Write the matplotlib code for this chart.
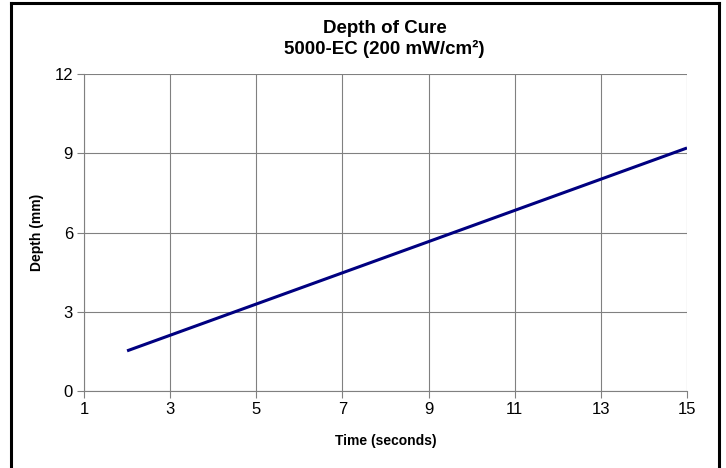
import numpy as np
import matplotlib.pyplot as plt
from matplotlib.lines import Line2D

plt.rcParams['font.family'] = ['Liberation Sans', 'DejaVu Sans']

# data
time_s = [2, 15]
depth_mm = [1.52, 9.2]
x_ticks = [1, 3, 5, 7, 9, 11, 13, 15]
y_ticks = [0, 3, 6, 9, 12]

fig = plt.figure(figsize=(7.26, 4.68), dpi=100)
ax = fig.add_axes([0.1157, 0.1645, 0.8306, 0.6774])

ax.plot(time_s, depth_mm, color='#000080', lw=2.2, solid_capstyle='butt')

ax.set_xlim(1, 15)
ax.set_ylim(0, 12)
ax.set_xticks(x_ticks)
ax.set_yticks(y_ticks)
ax.grid(True, color='#808080', lw=0.8)
ax.set_axisbelow(True)
for side in ['top', 'right']:
    ax.spines[side].set_visible(False)
for side in ['left', 'bottom']:
    ax.spines[side].set_color('#808080')
    ax.spines[side].set_linewidth(0.8)
ax.tick_params(direction='out', length=5, color='#808080', labelsize=12, pad=3)

ax.set_xlabel('Time (seconds)', fontsize=10, fontweight='bold', labelpad=12)
ax.set_ylabel('Depth (mm)', fontsize=10, fontweight='bold', va='center')
ax.yaxis.set_label_coords(-0.078, 0.5)
fig.text(0.5295, 0.940, 'Depth of Cure', ha='center', va='center',
         fontsize=13.5, fontweight='bold')
fig.text(0.5295, 0.895, '5000-EC (200 mW/cm²)', ha='center', va='center',
         fontsize=13.5, fontweight='bold')

# outer black frame (left, top, right)
fx = [11 / 726, 719 / 726]
fy = [1 - 3 / 468]
fig.add_artist(Line2D([fx[0], fx[0]], [0, fy[0]], color='black', lw=2.2, transform=fig.transFigure))
fig.add_artist(Line2D([fx[1], fx[1]], [0, fy[0]], color='black', lw=2.2, transform=fig.transFigure))
fig.add_artist(Line2D([fx[0], fx[1]], [fy[0], fy[0]], color='black', lw=2.2, transform=fig.transFigure))

fig.savefig('out.png', dpi=100)
